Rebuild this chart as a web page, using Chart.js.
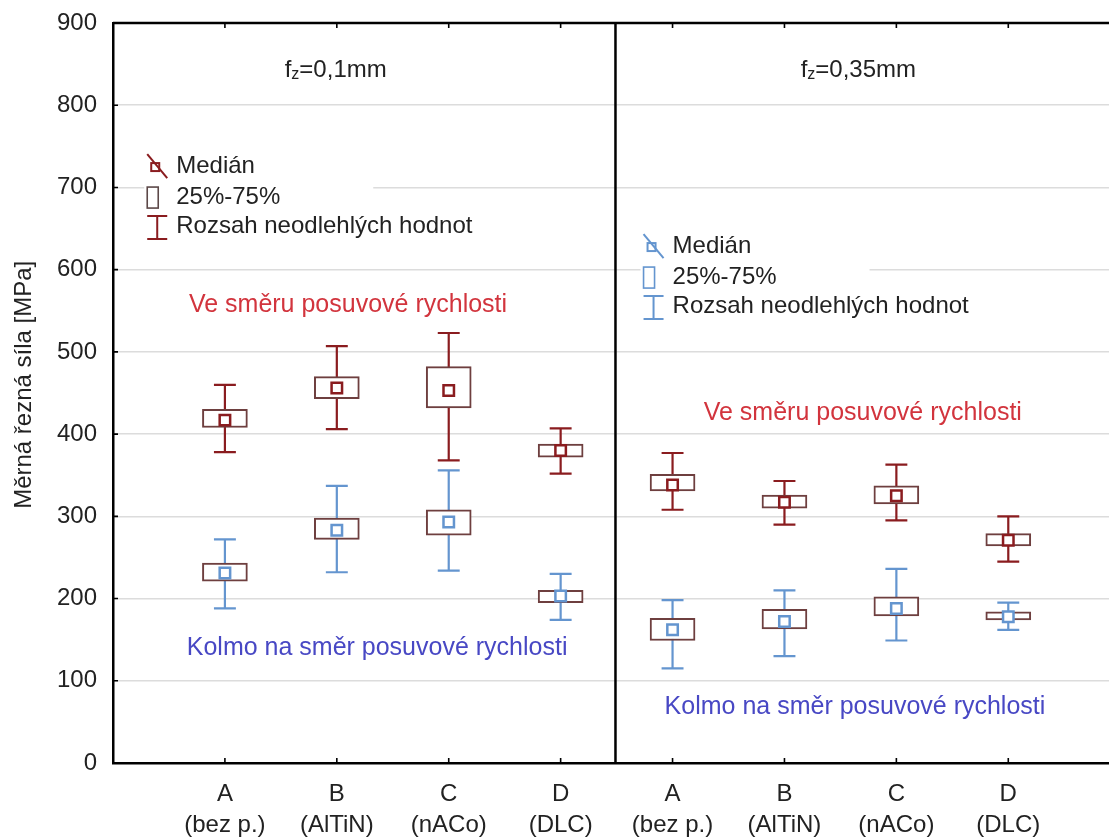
<!DOCTYPE html>
<html>
<head>
<meta charset="utf-8">
<script src="https://cdn.jsdelivr.net/npm/chart.js@4.4.1/dist/chart.umd.min.js"></script>
<style>
  html, body { margin: 0; padding: 0; background: #ffffff; overflow: hidden; }
  #wrap { width: 1109px; height: 838px; position: relative; }
</style>
</head>
<body>
<div id="wrap"><canvas id="c"></canvas></div>
<script>
// ---------------- data ----------------
const CATEGORIES = [
  ["A", "(bez p.)"], ["B", "(AlTiN)"], ["C", "(nACo)"], ["D", "(DLC)"],
  ["A", "(bez p.)"], ["B", "(AlTiN)"], ["C", "(nACo)"], ["D", "(DLC)"]
];
const CAT_X = [1, 2, 3, 4, 5, 6, 7, 8];
const Y_TICKS = [0, 100, 200, 300, 400, 500, 600, 700, 800, 900];

// "Ve směru posuvové rychlosti" (red)
const RED_MIN = [378, 406, 368, 352, 308, 290, 295, 245];
const RED_Q1  = [408, 443, 432, 372, 331, 310, 315, 264];
const RED_MED = [417, 456, 453, 380, 338, 317, 325, 271];
const RED_Q3  = [430, 470, 482, 388, 351, 326, 337, 279];
const RED_MAX = [460, 507, 523, 407, 377, 343, 363, 300];

// "Kolmo na směr posuvové rychlosti" (blue)
const BLUE_MIN = [188, 232, 234, 174, 115, 130, 149, 162];
const BLUE_Q1  = [221, 272, 277, 195, 149, 163, 179, 174];
const BLUE_MED = [231, 283, 293, 203, 162, 172, 188, 178];
const BLUE_Q3  = [243, 298, 308, 210, 176, 187, 202, 184];
const BLUE_MAX = [272, 337, 356, 230, 198, 210, 236, 195];

const Y_TITLE = "Měrná řezná síla [MPa]";
const PANEL_TITLES = [["f", "z", "=0,1mm"], ["f", "z", "=0,35mm"]];
const FEED_LABEL = "Ve směru posuvové rychlosti";
const PERP_LABEL = "Kolmo na směr posuvové rychlosti";
const LEGEND_LABELS = ["Medián", "25%-75%", "Rozsah neodlehlých hodnot"];

// ---------------- layout / style ----------------
const FONT = '"Liberation Sans", Arial, Helvetica, sans-serif';
const RED = '#8a1c1f';
const BLUE = '#6495cf';
const BOX_COLOR = '#6e3f3f';
const TXT = '#222222';
const X_MIN = 0, X_MAX = 8.9;
const DIVIDER_X = 4.49;
const CAP_HALF = 0.098;
const TITLE_POS = [{x: 1.99, y: 842}, {x: 6.66, y: 842}];
const FEED_POS = [{x: 2.1, y: 557}, {x: 6.7, y: 425.5}];
const PERP_POS = [{x: 2.36, y: 139.6}, {x: 6.63, y: 67.8}];
const YTITLE_POS = {y: 460};
const LEGEND_POS = [
  {x: 0.565, y: 726, color: RED, box: '#5c4848'},
  {x: 5.0, y: 628.7, color: BLUE, box: BLUE}
];
const LEGEND_ROW = [0, 31, 60];

function whiskerData(mins, maxs) {
  const d = [];
  CAT_X.forEach((x, i) => {
    d.push({x: x, y: mins[i]}, {x: x, y: maxs[i]}, {x: x, y: null});
  });
  return d;
}
function capData(mins, maxs) {
  const d = [];
  CAT_X.forEach((x, i) => {
    [mins[i], maxs[i]].forEach(v => {
      d.push({x: x - CAP_HALF, y: v}, {x: x + CAP_HALF, y: v}, {x: x, y: null});
    });
  });
  return d;
}
function boxData(q1, q3) { return CAT_X.map((x, i) => ({x: x, y: [q1[i], q3[i]]})); }
function medData(m) { return CAT_X.map((x, i) => ({x: x, y: m[i]})); }

const lineCommon = {type: 'line', showLine: true, spanGaps: false, pointRadius: 0, pointHoverRadius: 0, fill: false, tension: 0, borderWidth: 2.2, order: 5};
const boxCommon = {type: 'bar', backgroundColor: '#ffffff', borderColor: BOX_COLOR, borderWidth: 2, borderSkipped: false, barThickness: 45, grouped: false, order: 3};
const medCommon = {type: 'line', showLine: false, pointStyle: 'rect', pointRadius: 7.4, pointBorderWidth: 2.5, pointBackgroundColor: '#ffffff', order: 1};

const datasets = [
  Object.assign({}, lineCommon, {label: 'rw', data: whiskerData(RED_MIN, RED_MAX), borderColor: RED}),
  Object.assign({}, lineCommon, {label: 'rc', data: capData(RED_MIN, RED_MAX), borderColor: RED}),
  Object.assign({}, lineCommon, {label: 'bw', data: whiskerData(BLUE_MIN, BLUE_MAX), borderColor: BLUE}),
  Object.assign({}, lineCommon, {label: 'bc', data: capData(BLUE_MIN, BLUE_MAX), borderColor: BLUE}),
  Object.assign({}, boxCommon, {label: 'rbox', data: boxData(RED_Q1, RED_Q3)}),
  Object.assign({}, boxCommon, {label: 'bbox', data: boxData(BLUE_Q1, BLUE_Q3)}),
  Object.assign({}, medCommon, {label: 'rmed', data: medData(RED_MED), pointBorderColor: RED}),
  Object.assign({}, medCommon, {label: 'bmed', data: medData(BLUE_MED), pointBorderColor: BLUE})
];

const decorPlugin = {
  id: 'decor',
  beforeDatasetsDraw(chart) {
    const {ctx, chartArea: a, scales: {x, y}} = chart;
    ctx.save();
    // legend white backgrounds (interrupt gridlines)
    LEGEND_POS.forEach(p => {
      const px = x.getPixelForValue(p.x), py = y.getPixelForValue(p.y);
      ctx.fillStyle = '#ffffff';
      ctx.fillRect(px - 32, py - 16, 229, LEGEND_ROW[1] + 32);
    });
    ctx.strokeStyle = '#000000';
    ctx.lineWidth = 2.5;
    ctx.beginPath();
    ctx.moveTo(a.left, a.top); ctx.lineTo(a.right, a.top);
    const dx = x.getPixelForValue(DIVIDER_X);
    ctx.moveTo(dx, a.top); ctx.lineTo(dx, a.bottom);
    ctx.stroke();
    ctx.lineWidth = 1.6;
    ctx.beginPath();
    Y_TICKS.forEach(v => { const py = y.getPixelForValue(v); ctx.moveTo(a.left, py); ctx.lineTo(a.left + 5, py); });
    CAT_X.forEach(v => {
      const px = x.getPixelForValue(v);
      ctx.moveTo(px, a.bottom); ctx.lineTo(px, a.bottom - 5);
      ctx.moveTo(px, a.top); ctx.lineTo(px, a.top + 5);
    });
    ctx.stroke();
    ctx.restore();
  },
  afterDatasetsDraw(chart) {
    const {ctx, scales: {x, y}} = chart;
    ctx.save();
    ctx.textBaseline = 'middle';
    // y-axis title
    ctx.save();
    ctx.translate(24, y.getPixelForValue(YTITLE_POS.y));
    ctx.rotate(-Math.PI / 2);
    ctx.textAlign = 'center';
    ctx.font = '24px ' + FONT;
    ctx.fillStyle = TXT;
    ctx.fillText(Y_TITLE, 0, 0);
    ctx.restore();
    // panel titles
    PANEL_TITLES.forEach((parts, i) => {
      const cx = x.getPixelForValue(TITLE_POS[i].x), cy = y.getPixelForValue(TITLE_POS[i].y);
      const big = '24px ' + FONT, small = '16px ' + FONT;
      ctx.font = big; const w0 = ctx.measureText(parts[0]).width, w2 = ctx.measureText(parts[2]).width;
      ctx.font = small; const w1 = ctx.measureText(parts[1]).width;
      let sx = cx - (w0 + w1 + w2) / 2;
      ctx.fillStyle = TXT; ctx.textAlign = 'left';
      ctx.font = big; ctx.fillText(parts[0], sx, cy); sx += w0;
      ctx.font = small; ctx.fillText(parts[1], sx, cy + 4); sx += w1;
      ctx.font = big; ctx.fillText(parts[2], sx, cy);
    });
    // annotations
    ctx.textAlign = 'center';
    ctx.font = '25px ' + FONT;
    ctx.fillStyle = '#d2343d';
    FEED_POS.forEach(p => ctx.fillText(FEED_LABEL, x.getPixelForValue(p.x), y.getPixelForValue(p.y)));
    ctx.fillStyle = '#4848c4';
    PERP_POS.forEach(p => ctx.fillText(PERP_LABEL, x.getPixelForValue(p.x), y.getPixelForValue(p.y)));
    // legends
    LEGEND_POS.forEach(p => {
      const x0 = x.getPixelForValue(p.x), y0 = y.getPixelForValue(p.y);
      ctx.textAlign = 'left';
      ctx.font = '24px ' + FONT;
      ctx.fillStyle = TXT;
      LEGEND_LABELS.forEach((t, i) => ctx.fillText(t, x0, y0 + LEGEND_ROW[i]));
      let yc = y0 + LEGEND_ROW[0];
      ctx.strokeStyle = p.color; ctx.lineWidth = 2;
      ctx.strokeRect(x0 - 25, yc - 3, 8, 8);
      ctx.beginPath(); ctx.moveTo(x0 - 29, yc - 12); ctx.lineTo(x0 - 9, yc + 12); ctx.stroke();
      yc = y0 + LEGEND_ROW[1];
      ctx.strokeStyle = p.box; ctx.lineWidth = 1.6;
      ctx.strokeRect(x0 - 29, yc - 10, 11, 21);
      yc = y0 + LEGEND_ROW[2];
      ctx.strokeStyle = p.color; ctx.lineWidth = 2;
      ctx.beginPath();
      ctx.moveTo(x0 - 19, yc - 10); ctx.lineTo(x0 - 19, yc + 13);
      ctx.moveTo(x0 - 29, yc - 10); ctx.lineTo(x0 - 9, yc - 10);
      ctx.moveTo(x0 - 29, yc + 13); ctx.lineTo(x0 - 9, yc + 13);
      ctx.stroke();
    });
    ctx.restore();
  }
};

new Chart(document.getElementById('c'), {
  type: 'bar',
  data: {datasets: datasets},
  options: {
    responsive: true,
    maintainAspectRatio: false,
    animation: false,
    events: [],
    layout: {autoPadding: false, padding: {top: 23, right: 0, bottom: 0, left: 0}},
    plugins: {legend: {display: false}, tooltip: {enabled: false}, title: {display: false}},
    scales: {
      x: {
        type: 'linear',
        min: X_MIN, max: X_MAX,
        offset: false,
        grid: {display: false, drawTicks: false, offset: false},
        border: {display: true, color: '#000000', width: 2.5},
        afterBuildTicks: s => { s.ticks = CAT_X.map(v => ({value: v})); },
        afterFit: s => { s.height = 75; s.paddingLeft = 0; s.paddingRight = 0; },
        ticks: {
          autoSkip: false, maxRotation: 0, minRotation: 0, padding: 16,
          color: TXT, font: {family: FONT, size: 24, lineHeight: 1.3},
          callback: v => { const i = CAT_X.indexOf(v); return i >= 0 ? CATEGORIES[i] : ''; }
        }
      },
      y: {
        type: 'linear',
        min: 0, max: 900,
        grid: {color: '#dcdcdc', lineWidth: 1.5, drawTicks: false},
        border: {display: true, color: '#000000', width: 2.5},
        afterFit: s => { s.width = 113; s.paddingTop = 0; s.paddingBottom = 0; },
        ticks: {stepSize: 100, padding: 16, color: TXT, font: {family: FONT, size: 24}},
        title: {display: false}
      }
    }
  },
  plugins: [decorPlugin]
});
</script>
</body>
</html>
